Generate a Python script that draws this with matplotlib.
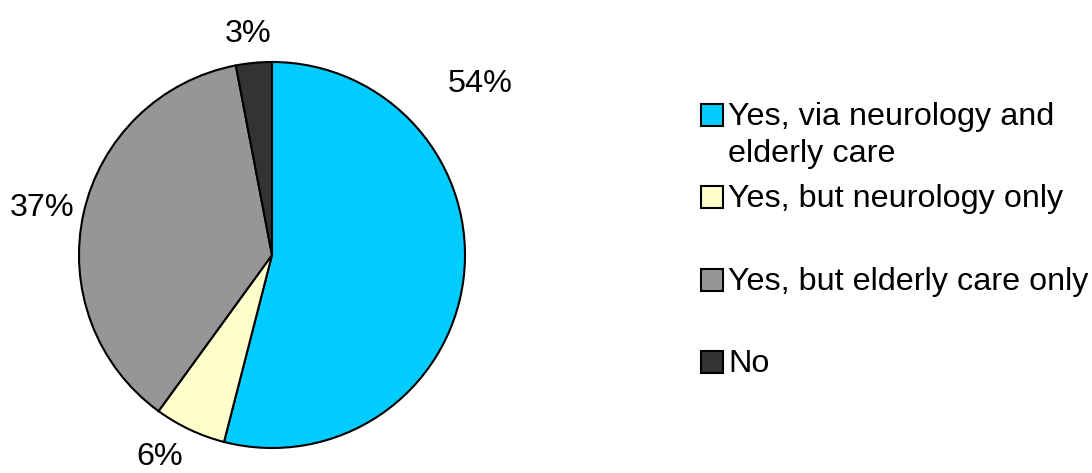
import matplotlib
matplotlib.use("Agg")
import matplotlib.pyplot as plt
from matplotlib.patches import Rectangle

categories = ["Yes, via neurology and\nelderly care", "Yes, but neurology only",
              "Yes, but elderly care only", "No"]
values = [54, 6, 37, 3]
colors = ["#00CCFF", "#FFFFCC", "#969696", "#333333"]

plt.rcParams['font.family'] = ['Liberation Sans', 'DejaVu Sans']
W, H = 1092, 473
fig = plt.figure(figsize=(W / 100, H / 100), dpi=100)
fig.patch.set_facecolor("white")

FS = 23.3

cx, cy, r = 272, 255, 193
ax = fig.add_axes([(cx - r) / W, (H - cy - r) / H, 2 * r / W, 2 * r / H])
ax.pie(values, colors=colors, startangle=90, counterclock=False, radius=1,
       wedgeprops=dict(edgecolor="black", linewidth=1.5))
ax.set_xlim(-1, 1)
ax.set_ylim(-1, 1)
ax.set_aspect("equal")
ax.axis("off")

# label positions in pixels (center x, baseline y)
label_pos = [(480, 92), (160, 465), (42, 216), (248, 42)]
for v, (px, py) in zip(values, label_pos):
    fig.text(px / W, 1 - py / H, f"{v}%", ha="center", va="baseline", fontsize=FS)

# legend (baseline of first line for each entry)
rows_base = [125, 207, 290, 372]
line_step = 37
for cat, col, by in zip(categories, colors, rows_base):
    fig.patches.append(Rectangle((701 / W, 1 - (by + 1) / H), 22 / W, 22 / H,
                                 transform=fig.transFigure, facecolor=col,
                                 edgecolor="black", linewidth=1.5))
    for i, line in enumerate(cat.split("\n")):
        fig.text(728 / W, 1 - (by + i * line_step) / H, line, ha="left",
                 va="baseline", fontsize=FS)

fig.savefig("out.png", dpi=100)
